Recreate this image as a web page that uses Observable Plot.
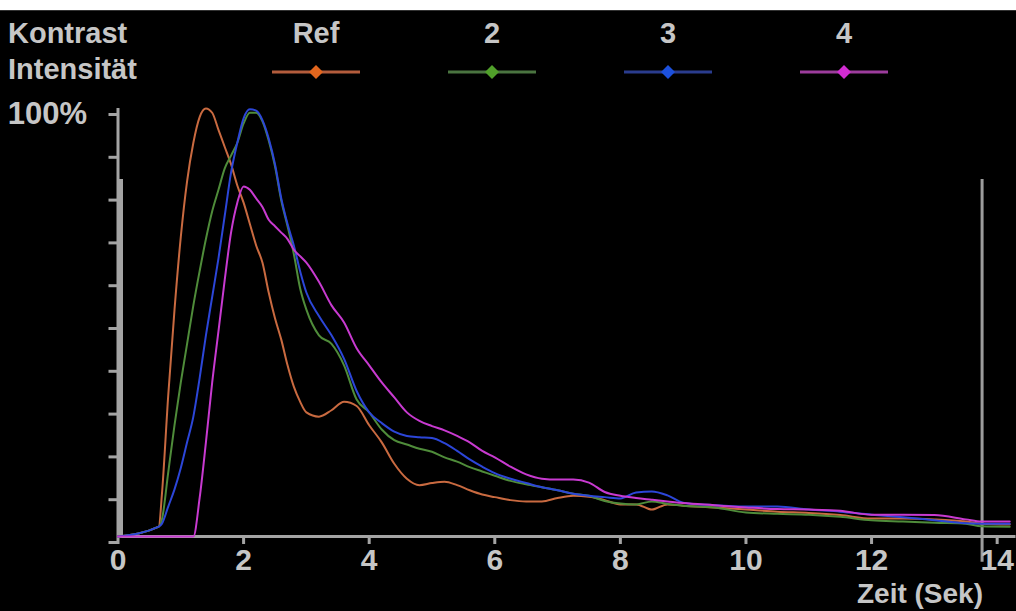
<!DOCTYPE html>
<html>
<head>
<meta charset="utf-8">
<script src="https://cdn.jsdelivr.net/npm/d3@7"></script>
<script src="https://cdn.jsdelivr.net/npm/@observablehq/plot@0.6"></script>
<style>
  html, body { margin: 0; padding: 0; background: #ffffff; }
  #chart { position: relative; margin-top: 10px; width: 1016px; height: 601px; background: #000; overflow: hidden; border-top: 1px solid #333; box-sizing: border-box; }
  #chart svg.overlay { position: absolute; left: 0; top: 0; pointer-events: none; }
  #plot { position: absolute; left: 0; top: 0; }
</style>
</head>
<body>
<div id="chart"><div id="plot"></div></div>
<script>
// ---- data ----
const titleLines = ["Kontrast", "Intensität"];
const topLabel = "100%";
const xLabel = "Zeit (Sek)";
const seriesNames = ["Ref", "2", "3", "4"];
const lineColors = ["#c96a40", "#4f8c3a", "#2c46d8", "#c83ad0"];
const legendLineColors = ["#b35c3c", "#4a7440", "#2a3c8e", "#9c3c9c"];
const legendDotColors = ["#e2661e", "#50a02a", "#1c50dc", "#d22cd2"];
const xTicks = [0, 2, 4, 6, 8, 10, 12, 14];
const yTicks = [0, 10, 20, 30, 40, 50, 60, 70, 80, 90, 100];
const roiStart = 0;       // sec, left region marker
const roiEnd = 13.76;     // sec, right region marker
const roiTop = 83.4;      // %, height of the region markers

const times = [0, 0.65, 0.7, 0.8, 0.9, 1.0, 1.1, 1.2, 1.3, 1.4, 1.5, 1.6, 1.7, 1.8, 1.9, 2.0, 2.1, 2.2, 2.3, 2.4, 2.5, 2.6, 2.7, 2.8, 2.9, 3.0, 3.2, 3.4, 3.6, 3.8, 4.0, 4.2, 4.4, 4.6, 4.8, 5.0, 5.2, 5.4, 5.6, 5.8, 6.0, 6.25, 6.5, 6.75, 7.0, 7.25, 7.5, 7.75, 8.0, 8.25, 8.5, 8.75, 9.0, 9.5, 10.0, 10.5, 11.0, 11.5, 12.0, 12.5, 13.0, 13.5, 13.75, 14.2];

const refValues = [0, 2.3, 10, 33, 53, 70, 83, 92, 98, 100, 99, 95, 91, 87, 82, 78, 73, 68, 64, 57, 51, 46, 40, 35, 31.5, 29, 28, 29.5, 31.5, 30.5, 26, 22, 17, 13.5, 12, 12.5, 12.8, 12, 10.8, 9.8, 9.2, 8.5, 8.2, 8.2, 9, 9.5, 9.3, 8.5, 7.5, 7.5, 6.3, 7.5, 7.2, 6.8, 6.3, 5.8, 5.5, 5, 4.2, 4.2, 4, 3.5, 3, 2.8];

const values2 = [0, 2.3, 4, 15, 26, 36, 45, 54, 62, 69.5, 76, 81, 86, 89, 92, 96.5, 99, 99, 97, 92.5, 86.5, 78.5, 72.5, 66, 58, 53, 47, 45, 40, 32, 29, 25, 22.5, 21.5, 20.5, 19.8, 18.5, 17.5, 16.2, 15.2, 14.2, 13, 12.2, 11.5, 10.8, 10, 9.5, 8.3, 7.7, 7.5, 8.2, 7.6, 7.2, 6.8, 5.6, 5.3, 5.1, 4.6, 3.8, 3.5, 3.2, 3, 2.4, 2.3];

const values3 = [0, 2.3, 3, 7, 11, 16, 22, 28, 37, 47, 56, 65, 75, 85, 92, 97.7, 99.8, 99.5, 97.3, 93, 87, 79, 73, 68, 62, 57, 51.5, 47, 41.5, 34, 29, 26.5, 24.5, 23.5, 23.2, 23, 21.8, 20, 18, 16.3, 14.8, 13.5, 12.5, 11.5, 10.8, 10, 9.5, 9.2, 8.9, 10.3, 10.5, 9.6, 7.9, 7.3, 7, 7, 6.3, 5.8, 5.1, 4.5, 3.8, 3.1, 3, 3];

const values4 = [0, 0, 0, 0, 0, 0, 0, 0, 9, 22, 36, 48, 60, 71, 78, 81.8, 81, 79, 77, 74, 72.5, 71, 69.5, 67, 65.5, 64, 59.5, 54, 50, 44, 40, 36, 32.5, 29, 27, 25.8, 24.8, 23.5, 22, 20, 18.5, 16.3, 14.5, 13.5, 13.3, 13.3, 12.6, 10.4, 9.5, 9, 8.6, 8.2, 7.8, 7.3, 6.8, 6.4, 6.3, 6, 5.1, 5.1, 5, 4, 3.5, 3.5];

const seriesValues = [refValues, values2, values3, values4];

// ---- build ----
const rows = seriesValues.flatMap((vals, si) =>
  times.map((t, i) => ({ t, v: vals[i], s: seriesNames[si] })));

const textFont = "'Liberation Sans', Arial, sans-serif";
const textColor = "#c6c6c6";
const axisGray = "#a4a4a4";

const chart = Plot.plot({
  width: 1016,
  height: 601,
  marginTop: 97,
  marginBottom: 76,
  marginLeft: 117.5,
  marginRight: 0.5,
  style: { background: "black", color: textColor, fontFamily: textFont, fontWeight: "bold", overflow: "visible" },
  x: { domain: [0, 14.3] },
  y: { domain: [0, 100] },
  color: { domain: seriesNames, range: lineColors },
  marks: [
    Plot.ruleX([roiStart], { y1: 0, y2: 100, stroke: axisGray, strokeWidth: 3 }),
    Plot.ruleX([roiStart], { y1: 0, y2: roiTop, stroke: axisGray, strokeWidth: 4, dx: 3 }),
    Plot.ruleX([roiEnd], { y1: -6, y2: roiTop, stroke: "#9c9c9c", strokeWidth: 3 }),
    Plot.ruleY([0], { stroke: axisGray, strokeWidth: 3 }),
    Plot.axisY({ ticks: yTicks, tickSize: 9, tickPadding: 22, stroke: axisGray, strokeWidth: 3,
      fill: textColor, fontSize: 31, dy: 6,
      tickFormat: d => d === 100 ? topLabel : "", label: null }),
    Plot.axisX({ ticks: xTicks, tickSize: 8, tickPadding: 4, stroke: axisGray, strokeWidth: 3,
      fill: textColor, fontSize: 30, tickFormat: d => String(d), label: null }),
    Plot.line(rows, { x: "t", y: "v", z: "s", stroke: "s", strokeWidth: 2, curve: "monotone-x" })
  ]
});
document.getElementById("plot").appendChild(chart);

// ---- title, legend, axis label overlay ----
const ov = d3.select("#chart").append("svg").attr("class", "overlay")
  .attr("width", 1016).attr("height", 601)
  .style("font-family", textFont).style("font-weight", "bold");

ov.selectAll("text.title").data(titleLines).join("text")
  .attr("class", "title")
  .attr("x", 8).attr("y", (d, i) => 32 + i * 36)
  .attr("fill", textColor).attr("font-size", 29)
  .text(d => d);

const lg = ov.selectAll("g.leg").data(seriesNames).join("g")
  .attr("class", "leg")
  .attr("transform", (d, i) => `translate(${316 + i * 176},0)`);
lg.append("text").attr("y", 32).attr("text-anchor", "middle")
  .attr("fill", textColor).attr("font-size", 29).text(d => d);
lg.append("line").attr("x1", -44).attr("x2", 44).attr("y1", 61).attr("y2", 61)
  .attr("stroke", (d, i) => legendLineColors[i]).attr("stroke-width", 3);
lg.append("path").attr("d", "M0,54 L7,61 L0,68 L-7,61 Z")
  .attr("fill", (d, i) => legendDotColors[i]);

ov.append("text").attr("x", 983).attr("y", 592).attr("text-anchor", "end")
  .attr("fill", textColor).attr("font-size", 28).text(xLabel);
</script>
</body>
</html>
